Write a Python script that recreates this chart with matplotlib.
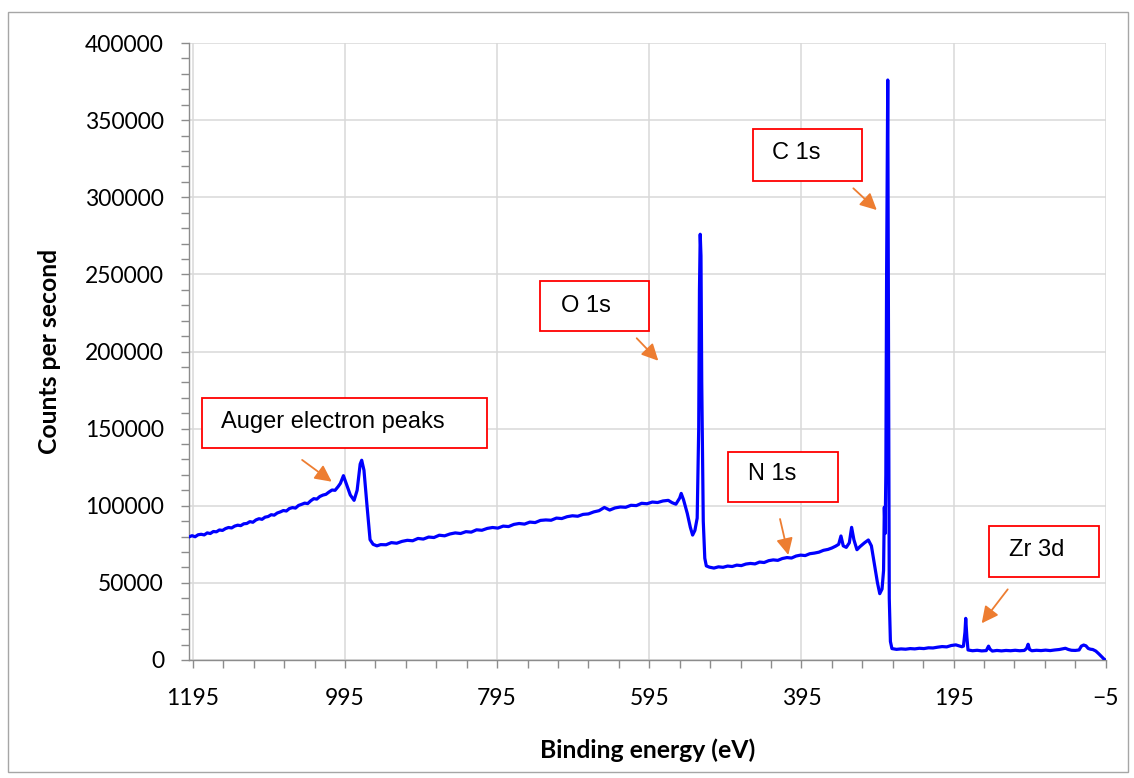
import numpy as np
import matplotlib
matplotlib.use('Agg')
import matplotlib.pyplot as plt
from matplotlib.patches import Rectangle

# survey spectrum: binding energy (eV) and counts per second
energy = [1200, 1196, 1192, 1188, 1184, 1180, 1176, 1172, 1168, 1164, 1160, 1156, 1152, 1148, 1144, 1140, 1136,
          1132, 1128, 1124, 1120, 1116, 1112, 1108, 1104, 1100, 1096, 1092, 1088, 1084, 1080, 1076, 1072, 1068,
          1064, 1060, 1056, 1052, 1048, 1044, 1040, 1036, 1032, 1028, 1024, 1020, 1016, 1012, 1008, 1004, 1001,
          997, 993, 988, 983, 979, 975, 973, 970, 966, 962, 958, 953,
          948, 941, 934, 927, 920, 913, 906, 899, 892, 885,
          878, 871, 864, 857, 850, 843, 836, 829, 822, 815,
          808, 801, 794, 787, 780, 773, 766, 759, 752, 745,
          738, 731, 724, 717, 710, 703, 696, 689, 682, 675,
          668, 661, 654, 647, 640, 633, 626, 619, 612, 605,
          598, 591, 584, 577, 570, 565,
          560, 555, 553, 550, 545, 541, 538, 535, 532, 530, 529, 528, 527, 526, 524, 522, 520,
          516, 510, 504, 498, 492, 486, 480, 474, 468, 462,
          456, 450, 444, 438, 432, 426, 420, 414, 408, 402,
          396, 390, 384, 378, 372, 366, 360, 355, 350, 346,
          343, 340, 336, 332, 329, 326, 322, 318, 312, 307, 303, 299, 295, 292, 289, 287, 286, 285,
          284, 283, 281.5, 280.5, 279.5, 278,
          276, 270, 264, 258, 252, 246, 240, 234, 228, 222,
          216, 210, 204, 198, 192, 188, 184, 182, 180, 179,
          177.5, 176, 170, 164, 158, 152, 149, 147, 144, 138,
          132, 126, 120, 114, 108, 102, 99, 97, 95, 92,
          86, 80, 74, 68, 62, 56, 52, 48, 44, 40,
          35, 30, 27, 24, 21, 18, 15, 12, 8, 4,
          0, -3, -5]
counts = [79800, 80600, 79900, 81200, 81500, 81100, 82400, 82000, 83300, 83100, 84300, 84000, 85200, 85900, 85600, 86800, 87400,
          87100, 88300, 88500, 89700, 89300, 90800, 91600, 91200, 92600, 93000, 94200, 93900, 95300, 96000, 96900, 96600, 98200,
          98800, 98500, 100200, 100900, 101700, 101400, 103200, 104600, 104300, 106000, 106900, 107400, 108900, 110200, 110000, 112400, 114500,
          119500, 114000, 107000, 103500, 110000, 127000, 129500, 123000, 100000, 78000, 75000, 74000,
          74800, 74700, 76100, 75700, 76900, 77600, 77300, 78800, 78400, 79700,
          79400, 80900, 80500, 81700, 82400, 82000, 83200, 82900, 84400, 84100,
          85300, 85900, 85500, 86800, 86500, 87900, 88500, 88100, 89400, 89100,
          90500, 90800, 90600, 92000, 91700, 92900, 93500, 93200, 94400, 94700,
          96000, 96800, 98900, 97200, 98600, 99200, 99000, 100300, 100100, 101600,
          101300, 102400, 102100, 103100, 103500, 102000,
          101000, 105000, 108000, 104000, 95000, 86000, 81000, 84000, 92000, 150000, 240000, 276000, 262000, 180000, 90000, 66000, 61000,
          60200, 59600, 60400, 60100, 60900, 60600, 61500, 61200, 62200, 62600,
          62300, 63500, 63200, 64400, 64900, 64600, 65800, 66400, 66100, 67400,
          68000, 67700, 68900, 69300, 69900, 71100, 71700, 72600, 73800, 75000,
          80400, 74000, 73000, 76000, 86000, 78000, 71500, 73500, 76000, 77800, 74000, 62000, 50000, 43000, 46000, 58000, 99000, 82000,
          120000, 250000, 376000, 200000, 40000, 12000,
          7400, 6900, 7200, 7000, 7400, 7200, 7600, 7400, 7900, 7800,
          8300, 8700, 8500, 9400, 9800, 9200, 8600, 9000, 18000, 27000,
          15000, 6500, 6000, 6300, 5900, 6100, 9000, 7000, 5800, 6200,
          5900, 6200, 6000, 6300, 6000, 6200, 7500, 10200, 6800, 6000,
          6300, 6100, 6400, 6100, 6500, 6800, 7200, 7600, 6800, 6300,
          6200, 6500, 9000, 9700, 9200, 7500, 7000, 6800, 5800, 4000,
          2000, 500, 0]

x_ticks = [1195, 995, 795, 595, 395, 195, -5]
y_ticks = [0, 50000, 100000, 150000, 200000, 250000, 300000, 350000, 400000]

# peak labels: text, box corners, text anchor, arrow tail, arrow tip
labels = ['Auger electron peaks', 'O 1s', 'N 1s', 'C 1s', 'Zr 3d']
boxes = [(1183, 137400, 808, 169900), (738.6, 213300, 594.9, 245900), (491.0, 102600, 346.4, 135000),
         (459.0, 310800, 315.2, 344200), (147.9, 54000, 3.3, 86900)]
text_pos = [(1158, 154500), (711.4, 229500), (464.7, 120500), (433.2, 329000), (122.0, 71500)]
arrow_tail = [(1051.3, 129700), (611.5, 208600), (423.1, 91400), (326.7, 305800), (123.8, 45800)]
arrow_tip = [(1012.4, 115600), (583.1, 194000), (412.2, 68100), (295.9, 291700), (158.0, 23800)]

fig = plt.figure(figsize=(11.34, 7.78), dpi=100)
ax = fig.add_axes([189 / 1134, 1 - 660 / 778, 916.7 / 1134, 617 / 778])

ax.plot(energy, counts, color='#0000FF', lw=2.3, zorder=3)

ax.set_xlim(1200, -5)
ax.set_ylim(0, 400000)
ax.set_xticks(x_ticks)
ax.set_xticks(np.arange(1195, -6, -40), minor=True)
ax.set_yticks(y_ticks)
ax.set_yticks(np.arange(0, 400001, 10000), minor=True)
ax.ticklabel_format(style='plain', axis='y')

ax.grid(True, which='major', color='#d9d9d9', lw=1.1)
ax.set_axisbelow(True)
for side in ['top', 'right']:
    ax.spines[side].set_visible(False)
for side in ['left', 'bottom']:
    ax.spines[side].set_color('#8c8c8c')
    ax.spines[side].set_linewidth(1.0)

ax.tick_params(which='both', direction='out', color='#8c8c8c', length=6, width=1.0)
ax.tick_params(axis='y', pad=12)
ax.tick_params(axis='x', pad=14)
for lab in ax.get_xticklabels() + ax.get_yticklabels():
    lab.set_fontfamily('Lato')
    lab.set_fontsize(16.5)

ax.set_xlabel('Binding energy (eV)', family='Lato', fontsize=17.8, fontweight='bold')
ax.set_ylabel('Counts per second', family='Lato', fontsize=17.8, fontweight='bold')
ax.xaxis.set_label_coords(0.5, -0.1264)
ax.yaxis.set_label_coords(-0.1396, 0.5)

# boxed peak labels with orange arrows
for name, (x0, y0, x1, y1), (tx, ty), tail, tip in zip(labels, boxes, text_pos, arrow_tail, arrow_tip):
    ax.add_patch(Rectangle((x0, y0), x1 - x0, y1 - y0, facecolor='white',
                           edgecolor='#FF0000', lw=1.3, zorder=4))
    ax.text(tx, ty, name, family='Liberation Sans', fontsize=17, ha='left', va='center', zorder=5)
    ax.annotate('', xy=tip, xytext=tail,
                arrowprops=dict(arrowstyle='-|>,head_length=0.5,head_width=0.25',
                                color='#ED7D31', lw=1.3, shrinkA=0, shrinkB=0,
                                mutation_scale=20), zorder=5)

# outer chart frame
fig.add_artist(Rectangle((8 / 1134, 1 - 772 / 778), 1120 / 1134, 760 / 778,
                         transform=fig.transFigure, fill=False, edgecolor='#a6a6a6', lw=1.0))

fig.savefig('out.png', dpi=100)
